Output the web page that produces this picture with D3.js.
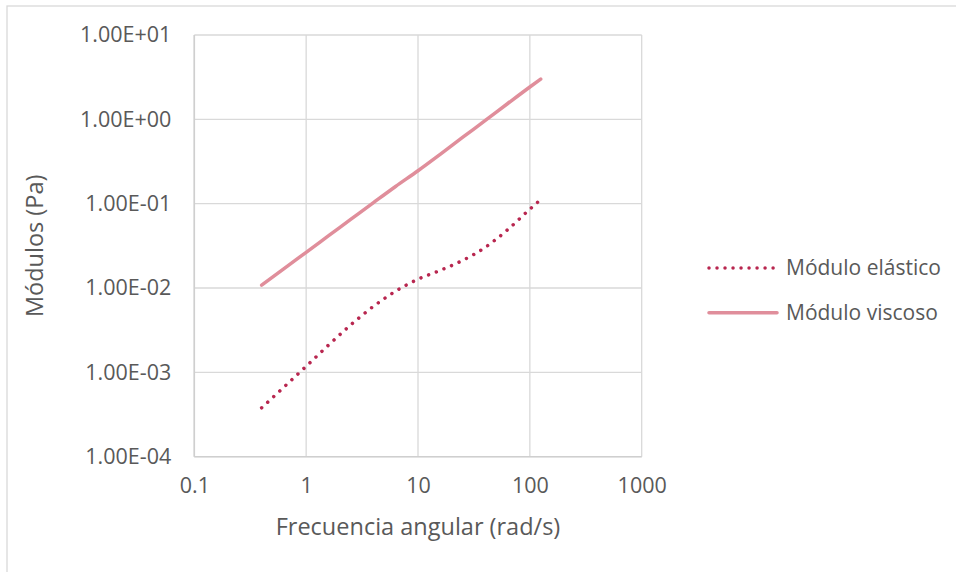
<!DOCTYPE html>
<html>
<head>
<meta charset="utf-8">
<script src="https://cdn.jsdelivr.net/npm/d3@7"></script>
<style>
  html, body { margin: 0; padding: 0; background: #fff; }
  svg { display: block; font-family: "Open Sans", sans-serif; }
</style>
</head>
<body>
<svg id="chart" width="956" height="572"></svg>
<script>
// ---- data ----
const frequencies = [0.4, 0.63, 1, 1.6, 2.5, 4, 6.3, 10, 16, 25, 40, 63, 100, 125];
const elasticModulus = [0.00038, 0.000665, 0.00118, 0.00213, 0.00365, 0.00607, 0.00916, 0.0127, 0.0163, 0.0212, 0.0304, 0.0489, 0.0861, 0.112];
const viscousModulus = [0.0108, 0.0169, 0.0265, 0.042, 0.065, 0.103, 0.16, 0.246, 0.39, 0.61, 0.97, 1.53, 2.42, 3.0];
const xTicks = [0.1, 1, 10, 100, 1000];
const xTickLabels = ["0.1", "1", "10", "100", "1000"];
const yTicks = [1e-4, 1e-3, 1e-2, 1e-1, 1, 10];
const yTickLabels = ["1.00E-04", "1.00E-03", "1.00E-02", "1.00E-01", "1.00E+00", "1.00E+01"];
const seriesNames = ["Módulo elástico", "Módulo viscoso"];
const xTitle = "Frecuencia angular (rad/s)";
const yTitle = "Módulos (Pa)";

// ---- layout ----
const svg = d3.select("#chart");
const plot = { left: 194.3, right: 641.7, top: 35, bottom: 456.7 };
const textColor = "#595959";
const gridColor = "#D9D9D9";
const elasticColor = "#B8264F";
const viscousColor = "#E08E9B";

const x = d3.scaleLog().domain([0.1, 1000]).range([plot.left, plot.right]);
const y = d3.scaleLog().domain([1e-4, 10]).range([plot.bottom, plot.top]);

// outer chart border
svg.append("rect")
  .attr("x", 7).attr("y", 6)
  .attr("width", 1000).attr("height", 700)
  .attr("fill", "none").attr("stroke", gridColor).attr("stroke-width", 1.3);

// gridlines
const grid = svg.append("g");
grid.selectAll("line.v").data(xTicks).join("line")
  .attr("x1", d => x(d)).attr("x2", d => x(d))
  .attr("y1", plot.top).attr("y2", plot.bottom)
  .attr("stroke", gridColor).attr("stroke-width", 1.3);
grid.selectAll("line.h").data(yTicks).join("line")
  .attr("y1", d => y(d)).attr("y2", d => y(d))
  .attr("x1", plot.left).attr("x2", plot.right)
  .attr("stroke", gridColor).attr("stroke-width", 1.3);
// axis lines
svg.append("line").attr("x1", plot.left).attr("x2", plot.left).attr("y1", plot.top).attr("y2", plot.bottom)
  .attr("stroke", "#CFCFCF").attr("stroke-width", 1.6);
svg.append("line").attr("x1", plot.left).attr("x2", plot.right).attr("y1", plot.bottom).attr("y2", plot.bottom)
  .attr("stroke", "#CFCFCF").attr("stroke-width", 1.6);

// axes via d3
const xAxis = d3.axisBottom(x).tickValues(xTicks).tickFormat((d, i) => xTickLabels[i]).tickSize(0).tickPadding(21);
const gx = svg.append("g").attr("transform", `translate(0,${plot.bottom})`).call(xAxis);
gx.select(".domain").remove();
gx.selectAll("text").attr("fill", textColor).style("font-size", "21.5px").style("font-family", "'Open Sans', sans-serif");

const yAxis = d3.axisLeft(y).tickValues(yTicks).tickFormat((d, i) => yTickLabels[i]).tickSize(0).tickPadding(23);
const gy = svg.append("g").attr("transform", `translate(${plot.left},0)`).call(yAxis);
gy.select(".domain").remove();
gy.selectAll("text").attr("fill", textColor).style("font-size", "21.5px").style("font-family", "'Open Sans', sans-serif");

// titles
svg.append("text")
  .attr("x", (plot.left + plot.right) / 2).attr("y", 535)
  .attr("text-anchor", "middle").attr("fill", textColor)
  .style("font-size", "23.5px").text(xTitle);
svg.append("text")
  .attr("transform", `translate(43,${(plot.top + plot.bottom) / 2}) rotate(-90)`)
  .attr("text-anchor", "middle").attr("fill", textColor)
  .style("font-size", "23.5px").text(yTitle);

// lines
const line = d3.line().x(d => x(d[0])).y(d => y(d[1])).curve(d3.curveMonotoneX);
const viscousData = frequencies.map((f, i) => [f, viscousModulus[i]]);
const elasticData = frequencies.map((f, i) => [f, elasticModulus[i]]);

svg.append("path").datum(viscousData).attr("d", line)
  .attr("fill", "none").attr("stroke", viscousColor).attr("stroke-width", 3.5)
  .attr("stroke-linecap", "round");
svg.append("path").datum(elasticData).attr("d", line)
  .attr("fill", "none").attr("stroke", elasticColor).attr("stroke-width", 3.5)
  .attr("stroke-linecap", "round").attr("stroke-dasharray", "0.01 8.25");

// legend
const legend = svg.append("g");
const legendItems = [
  { name: seriesNames[0], color: elasticColor, dash: "0.01 8" , y: 268},
  { name: seriesNames[1], color: viscousColor, dash: null, y: 312.7 }
];
legendItems.forEach(it => {
  const l = legend.append("line")
    .attr("x1", 709).attr("x2", 777).attr("y1", it.y).attr("y2", it.y)
    .attr("stroke", it.color).attr("stroke-width", 3.5).attr("stroke-linecap", "round");
  if (it.dash) l.attr("stroke-dasharray", it.dash);
  legend.append("text")
    .attr("x", 786).attr("y", it.y).attr("dy", "0.35em")
    .attr("fill", textColor).style("font-size", "21px").text(it.name);
});
</script>
</body>
</html>
